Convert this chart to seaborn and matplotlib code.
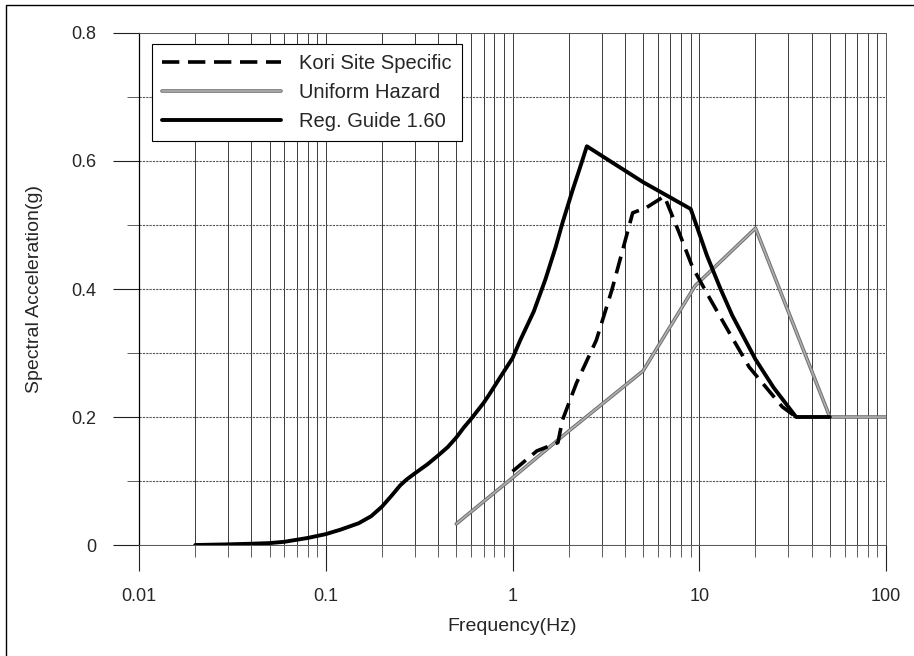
import numpy as np
import pandas as pd
import seaborn as sns
import matplotlib
matplotlib.use("Agg")
import matplotlib.pyplot as plt
import matplotlib.patheffects as pe
from matplotlib.patches import Rectangle
from matplotlib.ticker import LogLocator, MultipleLocator, FuncFormatter, NullFormatter

# values
kori_freq = [1.0, 1.35, 1.75, 1.85, 2.2, 2.81, 3.4, 4.4, 5.2, 6.5, 7.8, 9.2, 11.5, 14.4, 18.5, 27.8, 33.0]
kori_sa = [0.115, 0.147, 0.160, 0.195, 0.253, 0.320, 0.398, 0.519, 0.527, 0.545, 0.488, 0.434, 0.383, 0.333, 0.278, 0.216, 0.200]

uh_freq = [0.5, 1.0, 2.0, 5.0, 9.5, 20.0, 50.0, 100.0]
uh_sa = [0.033, 0.105, 0.178, 0.272, 0.405, 0.495, 0.200, 0.200]

rg_freq = [0.02, 0.03, 0.04, 0.05, 0.06, 0.08, 0.1, 0.12, 0.15, 0.175, 0.2, 0.225, 0.25, 0.27,
           0.3, 0.35, 0.4, 0.45, 0.5, 0.55, 0.6, 0.65, 0.7, 0.75, 0.85, 1.0, 1.1, 1.3, 1.5,
           1.7, 1.85, 2.1, 2.3, 2.5, 5.0, 9.0, 11.0, 13.0, 15.0, 20.0, 25.0, 33.0, 50.0]
rg_sa = [0.0, 0.001, 0.002, 0.003, 0.005, 0.011, 0.017, 0.024, 0.034, 0.045, 0.060, 0.077, 0.093, 0.102,
         0.112, 0.126, 0.140, 0.153, 0.168, 0.184, 0.197, 0.210, 0.222, 0.235, 0.260, 0.292, 0.320, 0.365, 0.415,
         0.465, 0.503, 0.555, 0.590, 0.623, 0.567, 0.525, 0.452, 0.400, 0.359, 0.290, 0.246, 0.200, 0.200]

labels = ["Kori Site Specific", "Uniform Hazard", "Reg. Guide 1.60"]

sns.set_style("white")
plt.rcParams["font.family"] = ["Liberation Sans", "DejaVu Sans"]

fig = plt.figure(figsize=(9.14, 6.56), dpi=100)
ax = fig.add_axes([0.1521, 0.1692, 0.8173, 0.7805])

kori = pd.DataFrame({"f": kori_freq, "sa": kori_sa})
uh = pd.DataFrame({"f": uh_freq, "sa": uh_sa})
rg = pd.DataFrame({"f": rg_freq, "sa": rg_sa})

sns.lineplot(data=kori, x="f", y="sa", ax=ax, color="black", lw=2.6,
             ls=(0, (4.8, 2.4)), label=labels[0], errorbar=None, zorder=4)
sns.lineplot(data=uh, x="f", y="sa", ax=ax, color="#b0b0b0", lw=1.2, label=labels[1],
             errorbar=None, zorder=3,
             path_effects=[pe.Stroke(linewidth=2.6, foreground="#6e6e6e"), pe.Normal()])
sns.lineplot(data=rg, x="f", y="sa", ax=ax, color="black", lw=2.8,
             label=labels[2], errorbar=None, zorder=5)

ax.set_xscale("log")
ax.set_xlim(0.01, 100)
ax.set_ylim(0, 0.8)

ax.xaxis.set_major_locator(LogLocator(base=10, numticks=10))
ax.xaxis.set_minor_locator(LogLocator(base=10, subs=np.arange(2, 10), numticks=100))
ax.xaxis.set_major_formatter(FuncFormatter(lambda v, _: f"{v:g}"))
ax.xaxis.set_minor_formatter(NullFormatter())
ax.yaxis.set_major_locator(MultipleLocator(0.2))
ax.yaxis.set_minor_locator(MultipleLocator(0.1))
ax.yaxis.set_major_formatter(FuncFormatter(lambda v, _: f"{v:g}"))

ax.tick_params(which="major", length=19, width=0.8, pad=12, labelsize=13,
               direction="out", color="#222222", bottom=True, left=True)
ax.tick_params(which="minor", length=8.5, width=0.6, direction="out",
               color="#444444", bottom=True, left=True)

ax.grid(which="both", axis="x", color="#3a3a3a", lw=0.7)
ax.grid(which="both", axis="y", color="#555555", lw=0.8, ls=(0, (2, 1)))
ax.set_axisbelow(True)

for side in ["top", "right", "bottom"]:
    ax.spines[side].set_color("#555555")
    ax.spines[side].set_linewidth(0.7)
ax.spines["left"].set_color("black")
ax.spines["left"].set_linewidth(0.9)

ax.set_xlabel("Frequency(Hz)", fontsize=14, labelpad=9)
ax.set_ylabel("Spectral Acceleration(g)", fontsize=14, labelpad=20)

leg = ax.legend(loc="upper left", bbox_to_anchor=(0.0174, 0.9785), borderaxespad=0,
                fontsize=14.5, handlelength=5.9, handletextpad=0.9, borderpad=0.5,
                labelspacing=0.5, frameon=True, fancybox=False, framealpha=1)
leg.get_frame().set_edgecolor("black")
leg.get_frame().set_linewidth(0.8)

# thin frame round the whole picture
fig.patches.append(Rectangle((0.0066, -0.05), 1.2, 0.9924 + 0.05, transform=fig.transFigure,
                             fill=False, ec="black", lw=1.0))

fig.savefig("out.png", dpi=100)
